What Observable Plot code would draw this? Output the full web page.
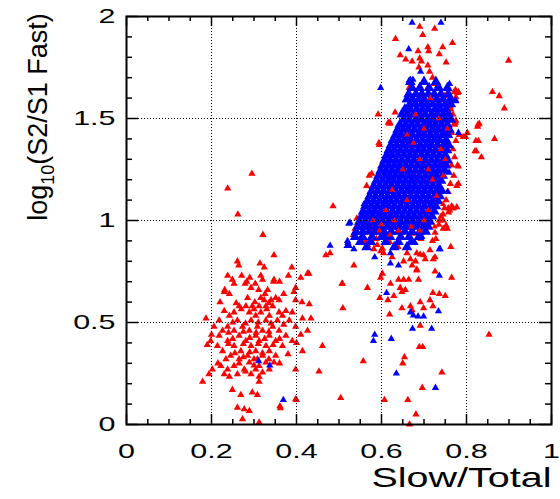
<!DOCTYPE html>
<html><head><meta charset="utf-8">
<script src="https://cdn.jsdelivr.net/npm/d3@7"></script>
<script src="https://cdn.jsdelivr.net/npm/@observablehq/plot@0.6"></script>
<style>body{margin:0;background:#fff} svg{display:block}</style>
</head><body><div id="chart"></div>
<script>
const xLabel = "Slow/Total";
const yLabelMain = "log";
const yLabelSub = "10";
const yLabelRest = "(S2/S1 Fast)";
const xTicks = [0, 0.2, 0.4, 0.6, 0.8, 1];
const xMinorTicks = [0.05,0.1,0.15,0.25,0.3,0.35,0.45,0.5,0.55,0.65,0.7,0.75,0.85,0.9,0.95];
const yTicks = [0, 0.5, 1, 1.5, 2];
const yMinorTicks = [0.1,0.2,0.3,0.4,0.6,0.7,0.8,0.9,1.1,1.2,1.3,1.4,1.6,1.7,1.8,1.9];
const xGrid = [0.2, 0.4, 0.6, 0.8];
const yGrid = [0.5, 1, 1.5];

// red events, low-x population
const redLeft = [
[0.347,0.83],[0.261,0.80],[0.314,0.79],[0.324,0.77],[0.389,0.77],[0.426,0.74],[0.41,0.72],[0.238,0.73],[0.271,0.73],[0.316,0.73],[0.381,0.73],[0.249,0.71],[0.32,0.71],[0.346,0.70],[0.279,0.69],[0.303,0.69],[0.253,0.69],[0.293,0.67],[0.398,0.67],[0.311,0.66],[0.332,0.66],[0.23,0.65],[0.394,0.65],[0.242,0.64],[0.326,0.64],[0.285,0.62],[0.316,0.62],[0.351,0.62],[0.324,0.61],[0.34,0.61],[0.359,0.61],[0.398,0.61],[0.413,0.60],[0.43,0.59],[0.265,0.58],[0.281,0.58],[0.296,0.58],[0.312,0.58],[0.328,0.58],[0.344,0.58],[0.23,0.557],[0.375,0.557],[0.39,0.55],[0.253,0.55],[0.289,0.55],[0.316,0.55],[0.359,0.55],[0.242,0.533],[0.304,0.533],[0.336,0.533],[0.367,0.533],[0.187,0.52],[0.414,0.52],[0.434,0.52],[0.218,0.51],[0.261,0.51],[0.293,0.51],[0.328,0.51],[0.355,0.51],[0.383,0.51],[0.206,0.48],[0.238,0.48],[0.273,0.48],[0.308,0.48],[0.344,0.48],[0.398,0.48],[0.226,0.46],[0.253,0.46],[0.289,0.46],[0.32,0.46],[0.359,0.46],[0.426,0.46],[0.218,0.435],[0.265,0.435],[0.304,0.435],[0.336,0.435],[0.375,0.435],[0.198,0.41],[0.238,0.41],[0.281,0.41],[0.312,0.41],[0.351,0.41],[0.39,0.41],[0.214,0.385],[0.253,0.385],[0.293,0.385],[0.328,0.385],[0.367,0.385],[0.461,0.385],[0.226,0.36],[0.269,0.36],[0.304,0.36],[0.336,0.36],[0.414,0.36],[0.245,0.337],[0.285,0.337],[0.32,0.337],[0.351,0.337],[0.234,0.32],[0.265,0.32],[0.308,0.32],[0.289,0.304],[0.328,0.304],[0.347,0.304],[0.222,0.287],[0.253,0.287],[0.312,0.287],[0.202,0.27],[0.238,0.27],[0.277,0.27],[0.304,0.27],[0.336,0.27],[0.398,0.27],[0.194,0.247],[0.23,0.247],[0.261,0.247],[0.293,0.247],[0.242,0.234],[0.312,0.234],[0.179,0.21],[0.312,0.21],[0.249,0.17],[0.296,0.157],[0.308,0.145],[0.269,0.145],[0.398,0.124],[0.261,0.083],[0.277,0.075],[0.289,0.067],[0.273,0.026],[0.312,0.01],[0.453,0.26],[0.469,0.83],[0.361,0.09],[0.362,0.08],[0.40,0.12],
[0.258,0.595],[0.302,0.6],[0.335,0.595],[0.27,0.565],[0.3,0.565],[0.33,0.565],[0.25,0.5],[0.28,0.495],[0.31,0.5],[0.34,0.495],[0.37,0.49],[0.24,0.45],[0.275,0.455],[0.305,0.45],[0.335,0.455],[0.25,0.42],[0.29,0.425],[0.325,0.42],[0.36,0.42],[0.24,0.395],[0.275,0.395],[0.31,0.395],[0.345,0.39],[0.255,0.35],[0.29,0.355],[0.32,0.35],[0.275,0.33],[0.3,0.32],[0.335,0.32],[0.215,0.3],[0.265,0.3],[0.3,0.29],[0.28,0.26],[0.32,0.255],[0.36,0.3],[0.38,0.345],[0.4,0.4],[0.41,0.44],[0.2,0.44],[0.19,0.39],[0.22,0.6],[0.37,0.64],[0.36,0.7],[0.29,0.72],
[0.295,1.23],[0.238,1.157],[0.262,1.03],[0.321,0.93],[0.264,0.78],[0.429,0.74],[0.231,0.66],[0.283,0.70],[0.347,0.71]
];

// red events, high-x population (drawn beneath the blue)
const redMain = [
[0.535,0.78],[0.508,0.69],[0.567,0.67],[0.509,0.57],[0.535,0.93],[0.598,0.72],[0.602,0.74],[0.596,0.62],[0.621,0.69],[0.64,0.71],[0.652,0.71],[0.664,0.71],[0.687,0.71],[0.644,0.67],[0.656,0.66],[0.648,0.65],[0.672,0.78],[0.683,0.76],[0.703,0.81],[0.722,0.81],[0.726,0.75],[0.765,0.72],[0.721,0.645],[0.736,0.64],[0.75,0.63],[0.714,0.61],[0.615,0.61],[0.629,0.63],[0.648,0.57],[0.668,0.58],[0.672,0.56],[0.691,0.60],[0.699,0.57],[0.721,0.58],[0.619,0.54],[0.691,0.485],[0.689,0.38],[0.697,0.38],[0.654,0.33],[0.65,0.30],[0.557,0.31],[0.742,0.255],[0.696,0.18],[0.607,0.12],[0.662,0.12],[0.681,0.05],[0.666,0.0],[0.853,0.44],[0.504,0.13],[0.486,1.07],[0.479,0.84],[0.507,0.69],[0.683,0.755],
[0.582,1.05],[0.574,0.987],[0.563,0.905],[0.574,0.913],[0.59,0.88],[0.602,0.863],[0.605,0.84],[0.625,0.82],[0.652,0.80],[0.668,0.81],[0.68,0.80],[0.691,0.834],[0.714,0.855],[0.726,0.94],[0.745,1.0],[0.765,1.07],[0.777,1.065],[0.567,0.88],[0.582,0.86],[0.598,0.85],[0.66,0.84],[0.683,0.84],[0.699,0.83],[0.726,0.82],
[0.783,1.42],[0.775,1.49],[0.826,1.46],[0.822,1.39],[0.82,1.34],[0.798,1.41],[0.779,1.27],[0.777,1.17],[0.767,1.06],[0.76,1.05],[0.736,1.0],[0.752,0.976],[0.728,0.91],[0.763,0.87],[0.762,1.56],[0.768,1.52],[0.772,1.47],[0.765,1.43],[0.775,1.39],[0.768,1.35],[0.772,1.31],[0.765,1.27],[0.77,1.22],[0.762,1.18],[0.757,1.14],[0.752,1.10],[0.748,1.06],[0.74,1.02],[0.735,0.98],[0.72,0.90],[0.745,0.96],[0.758,1.04],
[0.899,1.784],[0.861,1.63],[0.877,1.61],[0.889,1.55],[0.83,1.475],[0.828,1.39],[0.866,1.40],[0.823,1.34],[0.835,1.31],[0.781,1.265],[0.781,1.18],[0.769,1.06],[0.757,1.06],[0.755,0.96],[0.802,1.43],[0.792,1.41],[0.774,1.64],[0.781,1.63],[0.774,1.48],[0.745,1.03],
[0.592,1.52],[0.616,1.48],[0.595,1.37],[0.577,1.23],[0.565,1.17],[0.542,1.01],[0.538,0.96],[0.569,0.98],[0.58,0.95],[0.561,0.89],[0.534,0.93],[0.588,0.91],[0.619,0.895],[0.639,0.87],[0.674,0.935],[0.693,0.91],[0.571,1.22],[0.571,1.04],[0.594,1.38],[0.62,1.48],[0.632,1.53],[0.619,1.475],
[0.69,1.95],[0.725,1.94],[0.697,1.91],[0.633,1.89],[0.767,1.87],[0.744,1.85],[0.709,1.85],[0.711,1.83],[0.686,1.83],[0.736,1.815],[0.644,1.81],[0.657,1.79],[0.672,1.78],[0.69,1.795],[0.694,1.78],[0.752,1.775],[0.709,1.76],[0.688,1.75],[0.713,1.73],[0.72,1.70],[0.724,1.67],[0.709,1.65],[0.736,1.65],[0.665,1.65],[0.771,1.63],[0.779,1.625],[0.748,1.61],[0.775,1.605],[0.827,1.47],[0.771,1.475],[0.735,1.515],[0.763,1.545]
];

// blue events, scattered
const blueScatter = [
[0.311,0.31],[0.337,0.29],[0.369,0.12],
[0.479,0.877],[0.519,0.875],[0.523,0.985],[0.521,0.89],
[0.736,0.86],[0.736,0.73],[0.612,0.645],[0.668,0.55],[0.675,0.535],[0.686,0.53],[0.699,0.53],[0.734,0.556],[0.673,0.47],[0.718,0.47],[0.584,0.44],[0.581,0.41],[0.623,0.42],[0.635,0.25],[0.727,0.18],[0.64,0.78],[0.621,0.79],[0.584,0.82],[0.535,0.86],[0.524,0.875],[0.52,0.9],[0.526,0.99],[0.559,1.08],[0.582,0.94],[0.609,0.92],[0.621,0.84],[0.679,0.89],[0.695,0.92],
[0.672,1.97],[0.74,1.97],[0.664,1.84],[0.692,1.73],[0.674,1.69],[0.665,1.685],[0.598,1.65],[0.76,1.67],[0.732,1.66],[0.658,1.59],[0.651,1.54],[0.662,1.54],[0.775,1.585],[0.756,1.565],[0.774,1.59],[0.781,1.43],[0.755,1.62],[0.759,1.235],[0.755,1.14],[0.738,0.86]
];

// blue events in the dense core: [y, x values]
const blueCore = [
[1.68,[0.668,0.70,0.728]],
[1.65,[0.672,0.69,0.712,0.735,0.755]],
[1.62,[0.664,0.681,0.695,0.71,0.724,0.74,0.757]],
[1.595,[0.66,0.673,0.688,0.70,0.716,0.73,0.745,0.762]],
[1.57,[0.667,0.68,0.694,0.707,0.721,0.735,0.75,0.763]],
[1.545,[0.655,0.668,0.683,0.697,0.71,0.726,0.738,0.752]],
[1.52,[0.648,0.662,0.676,0.69,0.703,0.718,0.731,0.745,0.758]],
[1.495,[0.652,0.666,0.681,0.694,0.709,0.722,0.737,0.75,0.763]],
[1.47,[0.643,0.657,0.671,0.685,0.70,0.713,0.727,0.741,0.755]],
[1.445,[0.638,0.651,0.664,0.678,0.692,0.706,0.72,0.733,0.747,0.76]],
[1.42,[0.633,0.646,0.66,0.673,0.688,0.701,0.715,0.729,0.743,0.756]],
[1.395,[0.627,0.641,0.655,0.668,0.682,0.696,0.71,0.724,0.737,0.752]],
[1.37,[0.622,0.636,0.65,0.663,0.677,0.691,0.705,0.718,0.732,0.746,0.758]],
[1.345,[0.617,0.63,0.644,0.658,0.672,0.686,0.699,0.713,0.727,0.741,0.754]],
[1.32,[0.612,0.625,0.639,0.653,0.667,0.68,0.694,0.708,0.722,0.736,0.75]],
[1.295,[0.607,0.62,0.634,0.648,0.662,0.676,0.69,0.703,0.717,0.731,0.745,0.756]],
[1.27,[0.602,0.616,0.63,0.643,0.657,0.671,0.685,0.698,0.712,0.726,0.74,0.752]],
[1.245,[0.598,0.611,0.625,0.639,0.652,0.666,0.68,0.694,0.708,0.721,0.735,0.749]],
[1.22,[0.593,0.607,0.62,0.634,0.648,0.662,0.675,0.689,0.703,0.717,0.73,0.744]],
[1.195,[0.588,0.602,0.616,0.629,0.643,0.657,0.671,0.684,0.698,0.712,0.726,0.74]],
[1.17,[0.582,0.596,0.61,0.624,0.638,0.652,0.665,0.679,0.693,0.707,0.721,0.735]],
[1.145,[0.577,0.591,0.605,0.619,0.633,0.647,0.661,0.674,0.688,0.702,0.716,0.73,0.742]],
[1.12,[0.572,0.586,0.6,0.614,0.628,0.641,0.655,0.669,0.683,0.697,0.711,0.725,0.737]],
[1.095,[0.567,0.581,0.595,0.609,0.622,0.636,0.65,0.664,0.678,0.692,0.706,0.72,0.733]],
[1.07,[0.562,0.576,0.59,0.604,0.617,0.631,0.645,0.659,0.673,0.687,0.701,0.715,0.728]],
[1.045,[0.557,0.571,0.585,0.599,0.612,0.626,0.64,0.654,0.668,0.682,0.696,0.71,0.724]],
[1.02,[0.553,0.566,0.58,0.594,0.608,0.622,0.635,0.649,0.663,0.677,0.691,0.705,0.719]],
[0.995,[0.548,0.562,0.576,0.59,0.603,0.617,0.631,0.645,0.659,0.673,0.687,0.70,0.714]],
[0.97,[0.544,0.558,0.572,0.586,0.6,0.614,0.628,0.642,0.656,0.67,0.684,0.698,0.71]],
[0.945,[0.54,0.556,0.571,0.59,0.606,0.623,0.64,0.655,0.672,0.69,0.704]],
[0.92,[0.538,0.555,0.578,0.6,0.62,0.645,0.665,0.688]],
[0.895,[0.55,0.575,0.61,0.64,0.67]],
[0.87,[0.565,0.63,0.66]]
];

// red events visible on top of the blue core
const redFront = [
[0.70,1.45],[0.69,1.30],[0.72,1.20],[0.66,1.10],[0.63,1.00],[0.74,1.35],[0.71,1.05],[0.68,1.52],[0.73,1.12],[0.65,1.25],[0.61,1.05],[0.60,0.98],[0.64,0.95],[0.67,0.97],[0.745,1.22],[0.755,1.45],[0.75,1.30],[0.70,1.00],[0.69,0.95],[0.625,1.15],[0.675,1.38],[0.715,1.6],[0.66,1.42],[0.735,1.5],[0.745,1.08],[0.58,1.0],[0.595,0.95],[0.62,0.93],[0.725,0.97],[0.71,1.25]
];

const W = 560, H = 499, mL = 126, mR = 9, mT = 16, mB = 75;
const pw = W - mL - mR, ph = H - mT - mB;
const pts = a => a.map(([x, y]) => ({x, y}));
const redBack = pts(redLeft.concat(redMain));
const blueS = pts(blueScatter);
const blueC = blueCore.flatMap(([y, xs]) => xs.map(x => ({x, y})));
const red2 = pts(redFront);
const R = 2.7;
const tick = {stroke: "black", strokeWidth: 1.5};
const grid = {stroke: "black", strokeOpacity: 1, strokeWidth: 1, strokeDasharray: "1,2"};

const chart = Plot.plot({
  width: W, height: H,
  marginLeft: mL, marginRight: mR, marginTop: mT, marginBottom: mB,
  style: {fontFamily: "Liberation Sans, Arial, sans-serif", background: "white", color: "black"},
  x: {domain: [0, 1], axis: null},
  y: {domain: [0, 2], axis: null},
  marks: [
    Plot.dot(redBack, {x: "x", y: "y", symbol: "triangle", r: R, fill: "#ff0000"}),
    Plot.dot(blueC, {x: "x", y: "y", symbol: "triangle", r: 4, fill: "#0000ff"}),
    Plot.dot(blueS, {x: "x", y: "y", symbol: "triangle", r: R, fill: "#0000ff"}),
    Plot.dot(red2, {x: "x", y: "y", symbol: "triangle", r: 2.3, fill: "#ff0000"}),
    Plot.gridX(xGrid, grid),
    Plot.gridY(yGrid, grid),
    Plot.tickX(xTicks, {x: d => d, ...tick, insetTop: ph - 10}),
    Plot.tickX(xTicks, {x: d => d, ...tick, insetBottom: ph - 10}),
    Plot.tickX(xMinorTicks, {x: d => d, ...tick, insetTop: ph - 5}),
    Plot.tickX(xMinorTicks, {x: d => d, ...tick, insetBottom: ph - 5}),
    Plot.tickY(yTicks, {y: d => d, ...tick, insetRight: pw - 12}),
    Plot.tickY(yTicks, {y: d => d, ...tick, insetLeft: pw - 12}),
    Plot.tickY(yMinorTicks, {y: d => d, ...tick, insetRight: pw - 6}),
    Plot.tickY(yMinorTicks, {y: d => d, ...tick, insetLeft: pw - 6}),
    Plot.frame({stroke: "black", strokeWidth: 2}),
    Plot.axisX({ticks: xTicks, tickSize: 0, tickPadding: 19, fontSize: 21, label: null, tickFormat: d => String(d)}),
    Plot.axisY({ticks: yTicks, tickSize: 0, tickPadding: 11, fontSize: 21, label: null, tickFormat: d => String(d)}),
    Plot.text([xLabel], {frameAnchor: "bottom-right", dy: 62, textAnchor: "end", fontSize: 28, text: d => d})
  ]
});
document.getElementById("chart").append(chart);

const ns = "http://www.w3.org/2000/svg";
// Reproduce the horizontally stretched lettering of the original
chart.querySelectorAll("text").forEach(t => {
  const s = t.textContent;
  if (s === xLabel) {
    t.setAttribute("textLength", 180);
    t.setAttribute("lengthAdjust", "spacingAndGlyphs");
  } else if (/^[0-9.]+$/.test(s)) {
    const L = t.getComputedTextLength();
    t.setAttribute("textLength", L * 1.45);
    t.setAttribute("lengthAdjust", "spacingAndGlyphs");
  }
});

// y-axis title with subscript, rotated
const yt = document.createElementNS(ns, "text");
yt.setAttribute("transform", `translate(${mL - 88},${mT + 101}) rotate(-90)`);
yt.setAttribute("text-anchor", "middle");
yt.setAttribute("dy", "0.35em");
yt.setAttribute("font-size", "27");
yt.setAttribute("fill", "black");
yt.append(yLabelMain);
const sub = document.createElementNS(ns, "tspan");
sub.setAttribute("dy", "7");
sub.setAttribute("font-size", "18");
sub.textContent = yLabelSub;
const rest = document.createElementNS(ns, "tspan");
rest.setAttribute("dy", "-7");
rest.textContent = yLabelRest;
yt.append(sub, rest);
chart.append(yt);
</script>
</body></html>
